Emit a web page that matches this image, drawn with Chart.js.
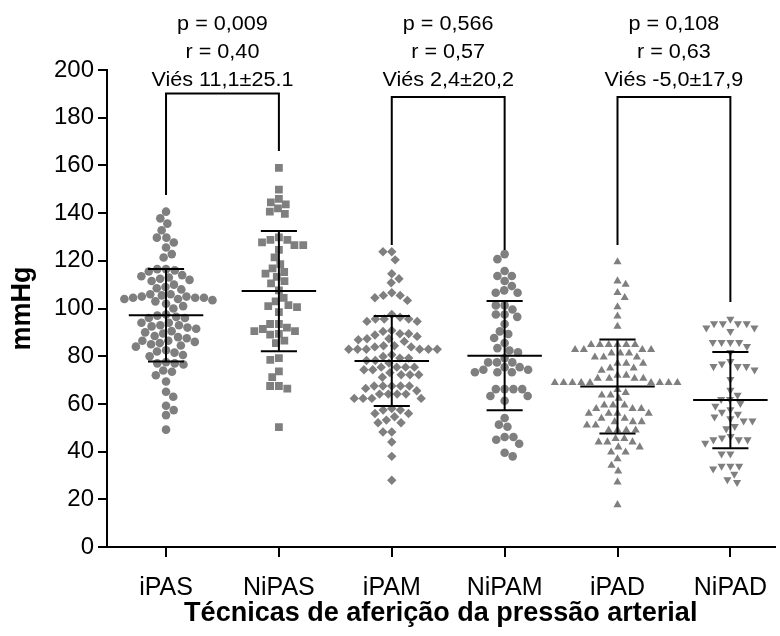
<!DOCTYPE html>
<html><head><meta charset="utf-8">
<script src="https://cdn.jsdelivr.net/npm/chart.js@4.4.1/dist/chart.umd.min.js"></script>
<style>html,body{margin:0;padding:0;background:#fff;}#wrap{width:780px;height:636px;}</style>
</head><body><div id="wrap"><canvas id="c" width="780" height="636"></canvas></div>
<script>
// ---------- data ----------
const categories = ['iPAS', 'NiPAS', 'iPAM', 'NiPAM', 'iPAD', 'NiPAD'];

const iPAS = [140.6, 137.8, 135.6, 132.8, 129.7, 129.7, 127.7, 125.6, 122.8, 121.4,
  116.5, 116.5, 116, 115.5, 114, 113.5, 113, 112.5, 112, 111.5, 110, 109, 108.5, 108,
  106, 106, 105.5, 105, 105, 104.5, 104.5, 104.5, 104, 104, 103.5, 103, 102, 101, 100,
  97.5, 97, 96.5, 96, 96, 94, 94, 93, 93, 92.5, 92, 91.5,
  90.5, 90, 89.5, 88.5, 88, 87.5, 86.5, 86.5, 86, 85.5, 85, 84.5, 84,
  82.5, 82, 81.5, 80.5, 80, 77.5, 77, 77, 76.5, 74, 73.5, 72,
  69.4, 65.1, 63, 59.2, 57.4, 55.3, 49.2];

const NiPAS = [159, 149.8, 146, 144.5, 143.7, 142, 140.6, 139.7,
  129.8, 128.8, 128.8, 127.7, 126.6, 126.6, 124.6, 121.4, 118.6, 116.8,
  115.3, 114.6, 113.3, 111.5, 110.5, 107.6, 104.5, 103, 101.4, 101, 100.6, 98.5,
  93.5, 93.5, 92, 91.4, 90.5, 90.5, 89.4, 89, 86.5, 85.5,
  79.2, 78.5, 73.6, 71.2, 67.5, 67.5, 66.4, 50.3];

const iPAM = [123.8, 123.8, 120.4, 114.6, 112.5, 110.8, 106.6, 105.5, 105.5, 104.5, 103.4,
  97.5, 96.3, 95.6, 95.6, 95.6, 94.6, 94.6,
  90.8, 90.4, 89.4, 89.4, 88.9, 88.3, 87.3, 87.3, 86.9, 86.2,
  84.4, 84.4, 83.9, 83.9, 82.9, 82.9, 82.9, 82.9, 82.9, 82.9,
  80.6, 79.9, 79.2, 79.2, 78.2, 78.2, 77.1, 75.4, 75.4, 75.4, 75.4, 74.3, 74.3, 73.1,
  72.2, 72.2, 72.2, 71.2, 67.5, 67.5, 67.5, 67.5, 67.5, 66.5, 65.5,
  64.1, 64.1, 64.1, 64.1, 62.3, 62.3, 62.3, 62.3,
  58.1, 57.4, 57.4, 56, 56, 54.6, 53.2, 52.1, 52.1, 48.2, 48.2, 44, 38, 28];

const NiPAM = [122.8, 120.7, 115.7, 113.6, 113.6, 111.5, 109.4, 107.6, 106.6, 106.6,
  101.3, 101.3, 99.6, 97.5, 97.5, 96.5, 93.5,
  90.4, 89.3, 87.6, 85.5, 83.4, 82.4, 81.6,
  79.2, 77.4, 77.4, 77.4, 75.4, 75.4, 74.3, 74.3, 73.3, 73.3, 73.3,
  66.2, 66.2, 66.2, 66.2, 63.3, 63.3, 61.3,
  54.1, 51.3, 50.4, 46.1, 46.1, 45, 43.3, 39.5, 38];

const iPAD = [119.5, 111.5, 110.1, 106.6, 104.5, 100.7, 96.8, 92.5,
  84.8, 84.8, 84.8, 84.8, 84.8, 84.8, 82.7, 82.7, 82.7, 82.7, 81.3, 81.3, 81.3, 79.6, 79.6, 79.6,
  77, 77, 77, 75, 75, 74,
  72, 72, 70.7, 70.7, 70.7, 70.7, 68.9, 68.9, 68.9, 68.9, 68.9, 68.9, 68.9, 68.9, 68.9,
  66, 64.7, 63.7, 63.7, 62.3,
  59.5, 59.5, 59.5, 58, 58, 58, 56, 56, 56, 56, 53.9, 53.9, 52.5, 52.5, 52.5, 51.1, 51.1,
  49, 49, 49, 49,
  45.4, 45.4, 44, 44, 44, 41.9, 41.9, 39.8, 39.8, 36.9, 34.2, 31.8, 27.2, 17.7];

const NiPAD = [95.6, 93.7, 93.7, 93.7, 93.7, 91.9, 91.9, 90.4,
  85.8, 85.8, 85.8, 85.8, 84.1,
  81.6, 77.8, 76.8, 75.7, 75.7, 75.7, 74.3, 70.3,
  65.8, 63.7, 61.9, 61.9,
  60.2, 59.1, 57.6, 56.6, 55.7, 54.6, 53.8, 52.9, 52.9, 50.6, 49.6,
  46.4, 45.8, 45, 45, 45, 43.6,
  39.1, 39.1, 33.9, 33.9, 33.9, 32.8, 30.6, 28.3, 27.1];

const groups = [iPAS, NiPAS, iPAM, NiPAM, iPAD, NiPAD];

// mean and SD shown by the error bars
const means = [97.2, 107.3, 78.0, 80.2, 67.3, 61.6];
const sds = [19.4, 25.2, 18.9, 22.9, 19.7, 20.2];

// y axis range / ticks
const yMin = 0, yMax = 200, yStep = 20;

// comparison brackets and their labels
const comparisons = [[0, 1], [2, 3], [4, 5]];
const pLabels = ['p = 0,009', 'p = 0,566', 'p = 0,108'];
const rLabels = ['r = 0,40', 'r = 0,57', 'r = 0,63'];
const biasLabels = ['Viés 11,1±25.1', 'Viés 2,4±20,2', 'Viés -5,0±17,9'];
const bracketTop = [190.1, 188.7, 188.7];
const bracketLeftEnd = [147.6, 126.6, 126.6];
const bracketRightEnd = [166, 124.5, 102.7];

const xTitle = 'Técnicas de aferição da pressão arterial';
const yTitle = 'mmHg';

// ---------- styling ----------
const GREY = '#7f7f7f';
const styles = [
  {pointStyle: 'circle', radius: 4.3, rotation: 0},
  {pointStyle: 'rect', radius: 5.5, rotation: 0},
  {pointStyle: 'rectRot', radius: 4.7, rotation: 0},
  {pointStyle: 'circle', radius: 4.3, rotation: 0},
  {pointStyle: 'triangle', radius: 4.7, rotation: 0},
  {pointStyle: 'triangle', radius: 4.7, rotation: 180}
];

Chart.defaults.font.family = "'Liberation Sans', Arial, sans-serif";
Chart.defaults.color = '#000';

const datasets = groups.map((vals, gi) => ({
  label: categories[gi],
  data: vals.map(v => ({x: gi + 1, y: v})),
  backgroundColor: GREY,
  borderColor: GREY,
  borderWidth: 0,
  pointStyle: styles[gi].pointStyle,
  pointRadius: styles[gi].radius,
  pointRotation: styles[gi].rotation,
  pointHoverRadius: styles[gi].radius
}));

function line(ctx, x1, y1, x2, y2) {
  ctx.beginPath(); ctx.moveTo(x1, y1); ctx.lineTo(x2, y2); ctx.stroke();
}

const overlay = {
  id: 'overlay',
  afterDatasetsDraw(chart) {
    const {ctx, scales: {x, y}} = chart;
    const unit = x.getPixelForValue(2) - x.getPixelForValue(1);
    ctx.save();
    ctx.strokeStyle = '#000';
    ctx.lineWidth = 2;
    // mean ± SD
    means.forEach((m, i) => {
      const cx = x.getPixelForValue(i + 1);
      const ym = y.getPixelForValue(m);
      const yt = y.getPixelForValue(m + sds[i]);
      const yb = y.getPixelForValue(m - sds[i]);
      const hw = unit * 0.33, cw = unit * 0.16;
      line(ctx, cx - hw, ym, cx + hw, ym);
      line(ctx, cx, yt, cx, yb);
      line(ctx, cx - cw, yt, cx + cw, yt);
      line(ctx, cx - cw, yb, cx + cw, yb);
    });
    // brackets
    const topPix = Math.min(...bracketTop.map(v => y.getPixelForValue(v)));
    comparisons.forEach(([a, b], k) => {
      const xa = x.getPixelForValue(a + 1), xb = x.getPixelForValue(b + 1);
      const yt = y.getPixelForValue(bracketTop[k]);
      ctx.beginPath();
      ctx.moveTo(xa, y.getPixelForValue(bracketLeftEnd[k]));
      ctx.lineTo(xa, yt);
      ctx.lineTo(xb, yt);
      ctx.lineTo(xb, y.getPixelForValue(bracketRightEnd[k]));
      ctx.stroke();
      // labels
      const cx = (xa + xb) / 2;
      ctx.fillStyle = '#000';
      ctx.font = "20px 'Liberation Sans', Arial, sans-serif";
      ctx.textAlign = 'center';
      ctx.textBaseline = 'alphabetic';
      const lines = [pLabels[k], rLabels[k], biasLabels[k]];
      lines.forEach((t, li) => {
        const by = topPix - 8 - (2 - li) * 28;
        ctx.save();
        ctx.translate(cx, by);
        ctx.scale(1.08, 1);
        ctx.fillText(t, 0, 0);
        ctx.restore();
      });
    });
    ctx.restore();
  }
};

const chart = new Chart(document.getElementById('c'), {
  type: 'scatter',
  data: {datasets},
  options: {
    responsive: false,
    animation: false,
    events: [],
    layout: {padding: {top: 70, right: 0, bottom: 0, left: 0}},
    plugins: {legend: {display: false}, tooltip: {enabled: false}},
    scales: {
      x: {
        type: 'linear',
        min: 0.477, max: 6.391,
        afterBuildTicks: s => { s.ticks = categories.map((c, i) => ({value: i + 1})); },
        ticks: {
          callback: v => categories[Math.round(v) - 1] || '',
          font: {size: 25}, color: '#000', padding: 16, autoSkip: false, maxRotation: 0
        },
        grid: {drawOnChartArea: false, drawTicks: true, tickLength: 10, color: '#000', lineWidth: 2},
        border: {display: true, color: '#000', width: 2},
        title: {display: true, text: xTitle, font: {size: 27, weight: 'bold'}, color: '#000', padding: {top: 0, bottom: 6}},
        afterFit: s => { s.height = 89; s.paddingLeft = 0; s.paddingRight = 0; }
      },
      y: {
        min: yMin, max: yMax,
        ticks: {stepSize: yStep, font: {size: 24}, color: '#000', padding: 4},
        grid: {drawOnChartArea: false, drawTicks: true, tickLength: 9, color: '#000', lineWidth: 2},
        border: {display: true, color: '#000', width: 2},
        title: {display: true, text: yTitle, font: {size: 27, weight: 'bold'}, color: '#000', padding: {top: 6, bottom: 0}},
        afterFit: s => { s.width = 107; s.paddingTop = 0; s.paddingBottom = 0; }
      }
    }
  },
  plugins: [overlay]
});

// ---------- beeswarm layout computed from the values ----------
function swarm(pys, d) {
  const order = pys.map((_, i) => i).sort((a, b) => pys[a] - pys[b]);
  const placed = [];
  const off = new Array(pys.length).fill(0);
  order.forEach((i, n) => {
    const y = pys[i];
    const near = placed.filter(p => Math.abs(p.y - y) < d);
    const cands = [0];
    near.forEach(p => {
      const dx = Math.sqrt(d * d - (p.y - y) * (p.y - y));
      cands.push(p.x + dx, p.x - dx);
    });
    const sgn = n % 2 ? 1 : -1;
    cands.sort((a, b) => (Math.abs(a) - Math.abs(b)) || (sgn * (a - b)));
    let x = 0;
    for (const c of cands) {
      if (near.every(p => (p.x - c) * (p.x - c) + (p.y - y) * (p.y - y) >= d * d - 0.01)) { x = c; break; }
    }
    placed.push({x, y});
    off[i] = x;
  });
  return off;
}

(function applySwarm() {
  const xs = chart.scales.x, ys = chart.scales.y;
  const unit = xs.getPixelForValue(2) - xs.getPixelForValue(1);
  groups.forEach((vals, gi) => {
    const pys = vals.map(v => ys.getPixelForValue(v));
    const off = swarm(pys, 8.8);
    chart.data.datasets[gi].data = vals.map((v, i) => ({x: gi + 1 + off[i] / unit, y: v}));
  });
  chart.update('none');
})();
</script>
</body></html>
